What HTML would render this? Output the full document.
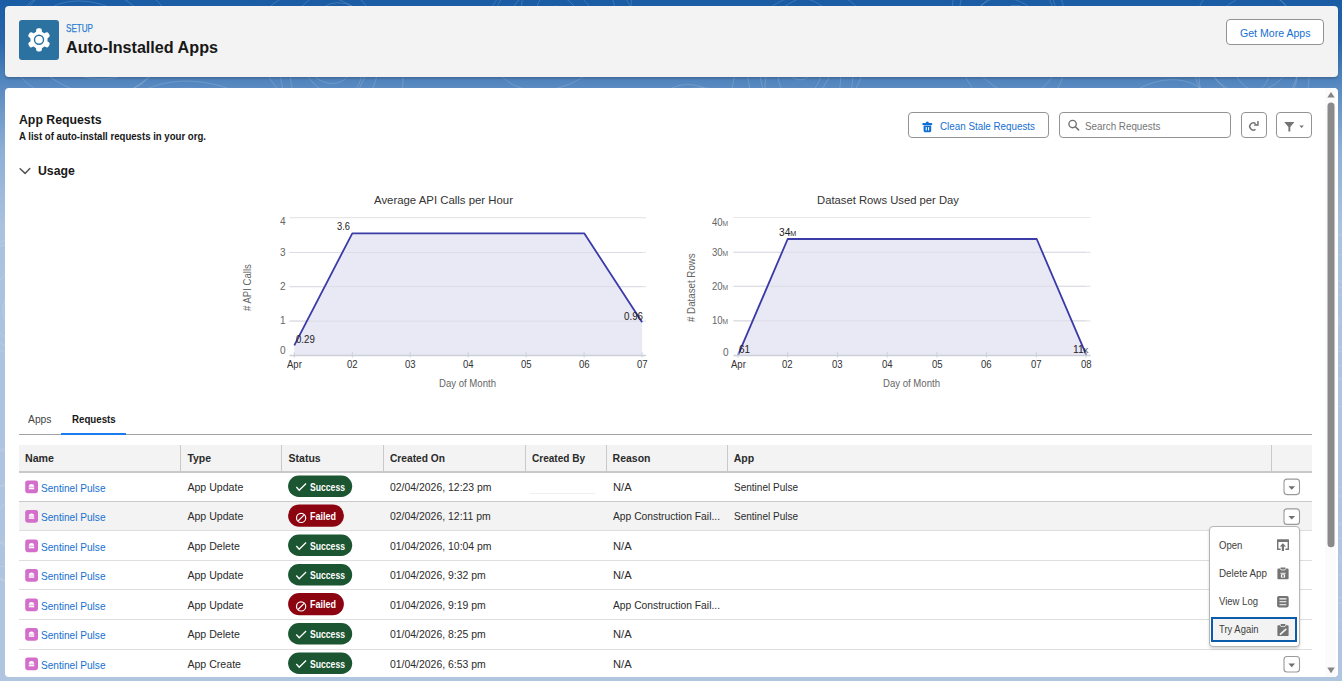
<!DOCTYPE html>
<html><head><meta charset="utf-8">
<style>
*{box-sizing:border-box;margin:0;padding:0}
html,body{width:1342px;height:681px;overflow:hidden}
body{font-family:"Liberation Sans",sans-serif;color:#181818;position:relative;
background:linear-gradient(180deg,#1a5ca4 0px,#2866ab 40px,#5a8bc1 88px,#8eafd6 150px,#abc2df 230px,#b0c5e0 681px);}
.a{position:absolute}
.t{position:absolute;white-space:nowrap;line-height:1}
.bx{position:absolute;border:1.25px solid #939393;border-radius:4px;background:#fff}
.vd{position:absolute;width:1px;background:#c9c9c9}
.hl{position:absolute;height:1px;background:#e5e5e5}
</style></head><body>
<!-- bgpattern --><svg class=a style="left:0;top:0" width="1342" height="681"><g fill="none" stroke="#ffffff" stroke-opacity="0.16" stroke-width="0.9"><ellipse cx="90" cy="40" rx="12.6" ry="7.9" transform="rotate(117 90 40)"/><ellipse cx="90" cy="40" rx="24.6" ry="20.2" transform="rotate(66 90 40)"/><ellipse cx="90" cy="40" rx="38.5" ry="30.0" transform="rotate(7 90 40)"/><ellipse cx="90" cy="40" rx="55.5" ry="37.4" transform="rotate(16 90 40)"/><ellipse cx="90" cy="40" rx="69.4" ry="52.0" transform="rotate(22 90 40)"/><ellipse cx="90" cy="40" rx="81.8" ry="60.8" transform="rotate(171 90 40)"/><ellipse cx="330" cy="60" rx="14.6" ry="9.4" transform="rotate(176 330 60)"/><ellipse cx="330" cy="60" rx="24.4" ry="22.2" transform="rotate(52 330 60)"/><ellipse cx="330" cy="60" rx="39.2" ry="27.7" transform="rotate(56 330 60)"/><ellipse cx="330" cy="60" rx="58.5" ry="38.1" transform="rotate(105 330 60)"/><ellipse cx="330" cy="60" rx="71.1" ry="49.2" transform="rotate(99 330 60)"/><ellipse cx="330" cy="60" rx="80.5" ry="57.4" transform="rotate(37 330 60)"/><ellipse cx="560" cy="20" rx="15.4" ry="9.6" transform="rotate(57 560 20)"/><ellipse cx="560" cy="20" rx="28.7" ry="19.7" transform="rotate(54 560 20)"/><ellipse cx="560" cy="20" rx="44.4" ry="31.2" transform="rotate(44 560 20)"/><ellipse cx="560" cy="20" rx="56.6" ry="40.2" transform="rotate(158 560 20)"/><ellipse cx="560" cy="20" rx="71.8" ry="48.7" transform="rotate(176 560 20)"/><ellipse cx="560" cy="20" rx="80.9" ry="59.5" transform="rotate(136 560 20)"/><ellipse cx="800" cy="70" rx="11.2" ry="9.9" transform="rotate(7 800 70)"/><ellipse cx="800" cy="70" rx="29.3" ry="21.6" transform="rotate(103 800 70)"/><ellipse cx="800" cy="70" rx="45.0" ry="28.9" transform="rotate(125 800 70)"/><ellipse cx="800" cy="70" rx="56.8" ry="40.5" transform="rotate(82 800 70)"/><ellipse cx="800" cy="70" rx="72.7" ry="52.7" transform="rotate(85 800 70)"/><ellipse cx="800" cy="70" rx="85.3" ry="57.4" transform="rotate(126 800 70)"/><ellipse cx="1010" cy="30" rx="15.2" ry="13.0" transform="rotate(148 1010 30)"/><ellipse cx="1010" cy="30" rx="26.3" ry="19.3" transform="rotate(120 1010 30)"/><ellipse cx="1010" cy="30" rx="38.2" ry="29.8" transform="rotate(30 1010 30)"/><ellipse cx="1010" cy="30" rx="52.9" ry="37.4" transform="rotate(138 1010 30)"/><ellipse cx="1010" cy="30" rx="67.0" ry="48.5" transform="rotate(70 1010 30)"/><ellipse cx="1010" cy="30" rx="87.0" ry="57.5" transform="rotate(81 1010 30)"/><ellipse cx="1250" cy="60" rx="14.4" ry="12.3" transform="rotate(147 1250 60)"/><ellipse cx="1250" cy="60" rx="30.9" ry="18.7" transform="rotate(75 1250 60)"/><ellipse cx="1250" cy="60" rx="40.9" ry="32.3" transform="rotate(172 1250 60)"/><ellipse cx="1250" cy="60" rx="53.2" ry="38.1" transform="rotate(42 1250 60)"/><ellipse cx="1250" cy="60" rx="67.9" ry="49.9" transform="rotate(106 1250 60)"/><ellipse cx="1250" cy="60" rx="82.1" ry="57.0" transform="rotate(75 1250 60)"/><ellipse cx="200" cy="140" rx="13.0" ry="10.4" transform="rotate(172 200 140)"/><ellipse cx="200" cy="140" rx="29.5" ry="20.1" transform="rotate(111 200 140)"/><ellipse cx="200" cy="140" rx="43.4" ry="27.3" transform="rotate(162 200 140)"/><ellipse cx="200" cy="140" rx="58.2" ry="42.2" transform="rotate(144 200 140)"/><ellipse cx="200" cy="140" rx="69.1" ry="49.4" transform="rotate(19 200 140)"/><ellipse cx="200" cy="140" rx="85.1" ry="57.4" transform="rotate(12 200 140)"/><ellipse cx="700" cy="150" rx="11.7" ry="8.0" transform="rotate(61 700 150)"/><ellipse cx="700" cy="150" rx="24.4" ry="17.0" transform="rotate(27 700 150)"/><ellipse cx="700" cy="150" rx="38.8" ry="29.2" transform="rotate(5 700 150)"/><ellipse cx="700" cy="150" rx="59.0" ry="40.7" transform="rotate(27 700 150)"/><ellipse cx="700" cy="150" rx="68.0" ry="49.1" transform="rotate(66 700 150)"/><ellipse cx="700" cy="150" rx="81.0" ry="62.1" transform="rotate(179 700 150)"/><ellipse cx="1150" cy="160" rx="13.7" ry="9.9" transform="rotate(15 1150 160)"/><ellipse cx="1150" cy="160" rx="24.8" ry="19.1" transform="rotate(48 1150 160)"/><ellipse cx="1150" cy="160" rx="44.6" ry="28.0" transform="rotate(4 1150 160)"/><ellipse cx="1150" cy="160" rx="59.6" ry="40.2" transform="rotate(26 1150 160)"/><ellipse cx="1150" cy="160" rx="70.3" ry="47.2" transform="rotate(95 1150 160)"/><ellipse cx="1150" cy="160" rx="87.8" ry="62.2" transform="rotate(125 1150 160)"/><ellipse cx="40" cy="300" rx="12.1" ry="9.2" transform="rotate(30 40 300)"/><ellipse cx="40" cy="300" rx="30.2" ry="20.2" transform="rotate(140 40 300)"/><ellipse cx="40" cy="300" rx="40.6" ry="28.3" transform="rotate(146 40 300)"/><ellipse cx="40" cy="300" rx="59.9" ry="42.1" transform="rotate(145 40 300)"/><ellipse cx="40" cy="300" rx="72.5" ry="51.4" transform="rotate(41 40 300)"/><ellipse cx="40" cy="300" rx="84.1" ry="59.1" transform="rotate(5 40 300)"/><ellipse cx="1330" cy="320" rx="10.2" ry="8.7" transform="rotate(47 1330 320)"/><ellipse cx="1330" cy="320" rx="29.5" ry="22.7" transform="rotate(81 1330 320)"/><ellipse cx="1330" cy="320" rx="45.5" ry="32.9" transform="rotate(172 1330 320)"/><ellipse cx="1330" cy="320" rx="54.9" ry="38.3" transform="rotate(41 1330 320)"/><ellipse cx="1330" cy="320" rx="67.6" ry="48.2" transform="rotate(112 1330 320)"/><ellipse cx="1330" cy="320" rx="87.2" ry="62.0" transform="rotate(86 1330 320)"/><ellipse cx="20" cy="520" rx="15.2" ry="11.8" transform="rotate(15 20 520)"/><ellipse cx="20" cy="520" rx="29.3" ry="22.5" transform="rotate(141 20 520)"/><ellipse cx="20" cy="520" rx="44.0" ry="29.9" transform="rotate(32 20 520)"/><ellipse cx="20" cy="520" rx="58.3" ry="39.0" transform="rotate(144 20 520)"/><ellipse cx="20" cy="520" rx="73.8" ry="49.4" transform="rotate(72 20 520)"/><ellipse cx="20" cy="520" rx="87.6" ry="61.3" transform="rotate(31 20 520)"/><ellipse cx="1330" cy="560" rx="11.0" ry="7.9" transform="rotate(163 1330 560)"/><ellipse cx="1330" cy="560" rx="30.5" ry="17.9" transform="rotate(149 1330 560)"/><ellipse cx="1330" cy="560" rx="45.8" ry="30.9" transform="rotate(63 1330 560)"/><ellipse cx="1330" cy="560" rx="56.4" ry="37.8" transform="rotate(3 1330 560)"/><ellipse cx="1330" cy="560" rx="73.8" ry="50.9" transform="rotate(95 1330 560)"/><ellipse cx="1330" cy="560" rx="87.5" ry="59.6" transform="rotate(157 1330 560)"/></g></svg>
<!-- header card -->
<div class=a style="left:5px;top:6px;width:1333px;height:71px;background:#f3f3f3;border-radius:4px;box-shadow:0 2px 2px rgba(0,0,0,.16)"></div>
<div class=a style="left:19px;top:20px;width:40px;height:40px;background:#2b72a0;border-radius:3px"></div>
<svg class=a style="left:19px;top:20px" width="40" height="40" viewBox="0 0 40 40">
 <g transform="translate(20,19.8)" fill="#fff">
  <circle r="8.6"/>
  <rect x="-2.9" y="-11.6" width="5.8" height="6" rx="2.2"/>
  <rect x="-2.9" y="-11.6" width="5.8" height="6" rx="2.2" transform="rotate(60)"/>
  <rect x="-2.9" y="-11.6" width="5.8" height="6" rx="2.2" transform="rotate(120)"/>
  <rect x="-2.9" y="-11.6" width="5.8" height="6" rx="2.2" transform="rotate(180)"/>
  <rect x="-2.9" y="-11.6" width="5.8" height="6" rx="2.2" transform="rotate(240)"/>
  <rect x="-2.9" y="-11.6" width="5.8" height="6" rx="2.2" transform="rotate(300)"/>
  <circle r="4.5" fill="none" stroke="#2b72a0" stroke-width="1.4"/>
 </g>
</svg>
<div class=bx style="left:1226.3px;top:19.1px;width:98px;height:26.2px"></div>

<!-- main card -->
<div class=a style="left:5px;top:88px;width:1333px;height:589px;background:#fff;border-radius:4px"></div>

<!-- toolbar -->
<div class=bx style="left:908px;top:112.2px;width:141px;height:26.2px"></div>
<svg class=a style="left:918px;top:116px" width="20" height="20" viewBox="0 0 20 20">
 <g fill="#0f6fd4">
  <rect x="4.4" y="7.1" width="9.8" height="1.9" rx="0.6"/>
  <path d="M7.6 7.3 Q7.8 5.6 9.3 5.6 Q10.8 5.6 11 7.3 Z"/>
  <path d="M5.6 9.6 H13.2 V14.8 Q13.2 16.2 11.8 16.2 H7 Q5.6 16.2 5.6 14.8 Z"/>
 </g>
 <g fill="#fff"><rect x="7.7" y="11" width="1.1" height="3.6" rx=".5"/><rect x="10" y="11" width="1.1" height="3.6" rx=".5"/></g>
</svg>
<div class=bx style="left:1058.7px;top:112.3px;width:172px;height:26px"></div>
<svg class=a style="left:1062px;top:114px" width="30" height="22" viewBox="0 0 30 22">
 <circle cx="10.6" cy="10" r="3.7" fill="none" stroke="#707070" stroke-width="1.35"/>
 <line x1="13.3" y1="12.7" x2="16.6" y2="15.9" stroke="#707070" stroke-width="1.5" stroke-linecap="round"/>
</svg>
<div class=bx style="left:1240.7px;top:112.3px;width:26px;height:26px"></div>
<svg class=a style="left:1241px;top:112px" width="26" height="26" viewBox="0 0 26 26">
 <path d="M14.6 11.6 A3.6 3.6 0 1 0 14.5 17.3" fill="none" stroke="#747474" stroke-width="1.45"/>
 <path d="M16.2 8.9 H17.7 V13.7 H13 V12.4 H16.2 Z" fill="#747474"/>
 <path d="M13.6 11.4 L16.4 12.6 L15 13.6 Z" fill="#747474"/>
</svg>
<div class=bx style="left:1276.3px;top:112.3px;width:35.5px;height:26px"></div>
<svg class=a style="left:1276px;top:112px" width="36" height="26" viewBox="0 0 36 26">
 <path d="M8.2 10 H18.4 L14.3 14.9 V19.6 H12.4 V14.9 Z" fill="#747474"/>
 <path d="M23.3 13.4 H27.9 L25.6 16 Z" fill="#747474"/>
</svg>

<!-- scrollbar -->
<div class=a style="left:1325px;top:88px;width:11px;height:589px;background:#fbfbfb"></div>
<svg class=a style="left:1325px;top:88px" width="13" height="589" viewBox="0 0 13 589">
 <path d="M2.3 9.6 H9.7 L6 4 Z" fill="#858585"/>
 <rect x="2.5" y="14.6" width="7" height="444.7" rx="3.5" fill="#8a8a8a"/>
 <path d="M2.3 579.6 H9.7 L6 585.2 Z" fill="#858585"/>
</svg>

<!-- usage chevron -->
<svg class=a style="left:15px;top:160px" width="20" height="20" viewBox="0 0 20 20">
 <path d="M5.1 8.7 L10.1 13.4 L14.8 8.6" fill="none" stroke="#555" stroke-width="1.5" stroke-linecap="round" stroke-linejoin="round"/>
</svg>

<!-- charts -->
<svg class=a style="left:0;top:0" width="1342" height="681" viewBox="0 0 1342 681">
 <g stroke="#e6e6e6" stroke-width="1.2">
  <line x1="289.5" y1="217.7" x2="646" y2="217.7"/>
  <line x1="289.5" y1="252.5" x2="646" y2="252.5"/>
  <line x1="289.5" y1="286.6" x2="646" y2="286.6"/>
  <line x1="289.5" y1="321.1" x2="646" y2="321.1"/>
  <line x1="733.4" y1="217.5" x2="1090.5" y2="217.5"/>
  <line x1="733.4" y1="252.3" x2="1090.5" y2="252.3"/>
  <line x1="733.4" y1="286.3" x2="1090.5" y2="286.3"/>
  <line x1="733.4" y1="320.8" x2="1090.5" y2="320.8"/>
 </g>
 <!-- chart1 area -->
 <path d="M294.3 345.3 L352.3 233.3 L584.2 233.3 L642.1 322.2 L642.1 355.2 L294.3 355.2 Z" fill="#e9e9f5"/>
 <g stroke="#d0d0e0" stroke-width="1"><line x1="289.5" y1="321.1" x2="642" y2="321.1" stroke="#dcdce6"/><line x1="289.5" y1="252.5" x2="642" y2="252.5" stroke="#dcdce6"/><line x1="289.5" y1="286.6" x2="642" y2="286.6" stroke="#dcdce6"/></g>
 <path d="M294.3 345.3 L352.3 233.3 L584.2 233.3 L642.1 322.2" fill="none" stroke="#3b3ba8" stroke-width="1.8" stroke-linejoin="round"/>
 <line x1="289.5" y1="355.5" x2="646" y2="355.5" stroke="#ccd0d8" stroke-width="1.3"/>
 <!-- chart2 area -->
 <path d="M738 355.2 L787.7 239 L1036.7 239 L1086.4 355.2 Z" fill="#e9e9f5"/>
 <g stroke="#dcdce6" stroke-width="1"><line x1="733.4" y1="252.3" x2="1086" y2="252.3"/><line x1="733.4" y1="286.3" x2="1086" y2="286.3"/><line x1="733.4" y1="320.8" x2="1086" y2="320.8"/></g>
 <path d="M738 355.2 L787.7 239 L1036.7 239 L1086.4 355.2" fill="none" stroke="#3b3ba8" stroke-width="1.8" stroke-linejoin="round"/>
 <line x1="733.4" y1="355.5" x2="1090.5" y2="355.5" stroke="#ccd0d8" stroke-width="1.3"/>
 <g stroke="#ccd0d8" stroke-width="1">
  <line x1="294.3" y1="352.2" x2="294.3" y2="357.6"/><line x1="352.3" y1="352.2" x2="352.3" y2="357.6"/><line x1="410.2" y1="352.2" x2="410.2" y2="357.6"/><line x1="468.2" y1="352.2" x2="468.2" y2="357.6"/><line x1="526.1" y1="352.2" x2="526.1" y2="357.6"/><line x1="584.1" y1="352.2" x2="584.1" y2="357.6"/><line x1="642" y1="352.2" x2="642" y2="357.6"/>
  <line x1="738" y1="352.2" x2="738" y2="357.6"/><line x1="787.7" y1="352.2" x2="787.7" y2="357.6"/><line x1="837.4" y1="352.2" x2="837.4" y2="357.6"/><line x1="887.2" y1="352.2" x2="887.2" y2="357.6"/><line x1="936.9" y1="352.2" x2="936.9" y2="357.6"/><line x1="986.6" y1="352.2" x2="986.6" y2="357.6"/><line x1="1036.3" y1="352.2" x2="1036.3" y2="357.6"/><line x1="1086" y1="352.2" x2="1086" y2="357.6"/>
 </g>
</svg>

<!-- tabs -->
<div class=a style="left:19px;top:434px;width:1293px;height:1.4px;background:#a3a3a3"></div>
<div class=a style="left:61.4px;top:432.6px;width:64.4px;height:2.6px;background:#1b7cf0"></div>

<!-- table -->
<div class=a style="left:19px;top:444.6px;width:1293px;height:26.6px;background:#f3f3f3"></div>
<div class=a style="left:19px;top:471px;width:1293px;height:1.6px;background:#c9c9c9"></div>
<div class=a style="left:19px;top:501.5px;width:1293px;height:29.3px;background:#f3f3f3"></div>
<div class=a style="left:19px;top:500.6px;width:1293px;height:1.3px;background:#c9c9c9"></div>
<div class=a style="left:19px;top:530.2px;width:1293px;height:1.2px;background:#dedede"></div>
<div class=a style="left:19px;top:559.6px;width:1293px;height:1.2px;background:#dedede"></div>
<div class=a style="left:19px;top:589.2px;width:1293px;height:1.2px;background:#dedede"></div>
<div class=a style="left:19px;top:618.7px;width:1293px;height:1.2px;background:#dedede"></div>
<div class=a style="left:19px;top:648.5px;width:1293px;height:1.2px;background:#dedede"></div>
<div class=vd style="left:180.3px;top:445px;height:25.5px"></div>
<div class=vd style="left:281.3px;top:445px;height:25.5px"></div>
<div class=vd style="left:382.7px;top:445px;height:25.5px"></div>
<div class=vd style="left:524.5px;top:445px;height:25.5px"></div>
<div class=vd style="left:605.5px;top:445px;height:25.5px"></div>
<div class=vd style="left:727px;top:445px;height:25.5px"></div>
<div class=vd style="left:1271.2px;top:445px;height:25.5px"></div>
<!-- faint skeleton line row1 created by -->
<div class=a style="left:530px;top:493px;width:65px;height:1px;background:#f0f0f0"></div>

<!-- row icons & badges -->
<svg class=a style="left:0;top:0" width="1342" height="681" viewBox="0 0 1342 681">
 <defs>
  <g id="appic">
   <rect x="0" y="0" width="12.8" height="12.8" rx="2.4" fill="#d36fca"/>
   <path d="M3.6 5.8 Q3.9 3.5 6.3 3.5 Q8.7 3.5 9 5.8 Z" fill="#fff"/><rect x="3.6" y="5.8" width="5.4" height="1.1" fill="#fff" opacity=".9"/><rect x="3.6" y="6.9" width="5.4" height="0.6" fill="#fff" opacity=".5"/><rect x="3.6" y="7.5" width="5.4" height="1.4" fill="#fff"/>
  </g>
  <g id="succ">
   <rect x="0" y="0" width="64.1" height="21.3" rx="10.65" fill="#1b5531"/>
   <path d="M8.2 11.4 L11.1 14.6 L18 7.9" fill="none" stroke="#fff" stroke-width="1.3"/>
  </g>
  <g id="fail">
   <rect x="0" y="0" width="55.8" height="22.4" rx="11.2" fill="#8c0410"/>
   <circle cx="13" cy="13.5" r="4.6" fill="none" stroke="#fff" stroke-width="1.2"/>
   <line x1="9.9" y1="16.6" x2="16.1" y2="10.4" stroke="#fff" stroke-width="1.2"/>
  </g>
  <g id="caret">
   <rect x="0.5" y="0.5" width="15.5" height="15.5" rx="3" fill="#fff" stroke="#9a9a9a" stroke-width="1.1"/>
   <path d="M4.9 7.6 H11.6 L8.25 11.2 Z" fill="#6f6f6f"/>
  </g>
 </defs>
 <use href="#appic" x="25.2" y="480.4"/>
 <use href="#appic" x="25.2" y="509.9"/>
 <use href="#appic" x="25.2" y="539.4"/>
 <use href="#appic" x="25.2" y="568.9"/>
 <use href="#appic" x="25.2" y="598.4"/>
 <use href="#appic" x="25.2" y="627.9"/>
 <use href="#appic" x="25.2" y="657.4"/>
 <use href="#succ" x="288.1" y="475.6"/>
 <use href="#fail" x="288.1" y="504.4"/>
 <use href="#succ" x="288.1" y="534.6"/>
 <use href="#succ" x="288.1" y="564.1"/>
 <use href="#fail" x="288.1" y="592.9"/>
 <use href="#succ" x="288.1" y="623.1"/>
 <use href="#succ" x="288.1" y="652.6"/>
 <use href="#caret" x="1283.5" y="478.6"/>
 <use href="#caret" x="1283.5" y="508.4"/>
 <use href="#caret" x="1283.5" y="656"/>
</svg>

<!-- dropdown menu -->
<div class=a style="left:1208.6px;top:526px;width:91px;height:120.5px;background:#fff;border:1px solid #b5b5b5;border-radius:4px;box-shadow:0 2px 3px rgba(0,0,0,.16)"></div>
<div class=a style="left:1211.1px;top:616.5px;width:86.2px;height:25px;background:#f3f3f3;border:2px solid #0b5cab"></div>
<svg class=a style="left:1270px;top:530px" width="25" height="115" viewBox="0 0 25 115">
 <!-- open -->
 <path d="M7.6 9.2 H18.4 Q19 9.2 19 9.8 V19.4 Q19 20 18.4 20 H15.4 V18.6 H17.6 V12 H8.4 V18.6 H10.6 V20 H7.6 Q7 20 7 19.4 V9.8 Q7 9.2 7.6 9.2 Z" fill="#747474"/>
 <path d="M12.9 13.2 L16.1 16.6 H14 V21 H11.8 V16.6 H9.7 Z" fill="#747474"/>
 <!-- delete -->
 <path d="M8.4 38.6 H10.6 V37.6 H15.4 V38.6 H17.6 Q18.6 38.6 18.6 39.6 V48.4 Q18.6 49.2 17.8 49.2 H8.2 Q7.4 49.2 7.4 48.4 V39.6 Q7.4 38.6 8.4 38.6 Z" fill="#747474"/>
 <path d="M10.4 38.6 Q10.4 40 12 40 H14 Q15.6 40 15.6 38.6" fill="none" stroke="#fff" stroke-width="0.8"/>
 <rect x="10.4" y="42.8" width="5.2" height="0.9" fill="#fff"/>
 <rect x="10.9" y="44.3" width="4.2" height="3.3" rx=".6" fill="#fff"/>
 <rect x="12.2" y="45" width="1.6" height="1.9" fill="#747474"/>
 <!-- view log -->
 <rect x="7.1" y="66" width="11.6" height="11.4" rx="1.8" fill="#747474"/>
 <g fill="#fff"><rect x="9.3" y="68.3" width="7.2" height="1.1" rx=".5"/><rect x="9.3" y="71.2" width="7.2" height="1.1" rx=".5"/><rect x="9.3" y="74.2" width="7.2" height="1.1" rx=".5"/></g>
 <!-- try again -->
 <path d="M8.4 95.2 H10.6 V94 H15.4 V95.2 H17.6 Q18.6 95.2 18.6 96.2 V105.2 Q18.6 106 17.8 106 H8.2 Q7.4 106 7.4 105.2 V96.2 Q7.4 95.2 8.4 95.2 Z" fill="#747474"/>
 <path d="M10.4 95.2 Q10.4 96.6 12 96.6 H14 Q15.6 96.6 15.6 95.2" fill="none" stroke="#f3f3f3" stroke-width="0.8"/>
 <line x1="10.4" y1="104.1" x2="15.8" y2="99.3" stroke="#f3f3f3" stroke-width="1.6" stroke-linecap="round"/>
</svg>

<div class=t style='font-size:10.2px;font-weight:400;color:#2e7fd1;-webkit-text-stroke:0.25px #2e7fd1;left:65.70px;top:23.97px;transform-origin:0 0;transform:scaleX(0.7948);'>SETUP</div>
<div class=t style='font-size:16.3px;font-weight:700;color:#181818;left:65.70px;top:39.00px;transform-origin:0 0;transform:scaleX(0.9923);'>Auto-Installed Apps</div>
<div class=t style='font-size:10.8px;font-weight:400;color:#1570d0;left:1240.00px;top:27.96px;transform-origin:0 0;transform:scaleX(0.9790);'>Get More Apps</div>
<div class=t style='font-size:12px;font-weight:700;color:#181818;left:18.90px;top:113.64px;transform-origin:0 0;transform:scaleX(1.0237);'>App Requests</div>
<div class=t style='font-size:10.2px;font-weight:700;color:#181818;left:18.90px;top:131.87px;transform-origin:0 0;transform:scaleX(0.9430);'>A list of auto-install requests in your org.</div>
<div class=t style='font-size:12px;font-weight:700;color:#181818;left:37.80px;top:164.64px;transform-origin:0 0;transform:scaleX(1.0213);'>Usage</div>
<div class=t style='font-size:10.7px;font-weight:400;color:#1570d0;left:940.00px;top:121.24px;transform-origin:0 0;transform:scaleX(0.9190);'>Clean Stale Requests</div>
<div class=t style='font-size:10.7px;font-weight:400;color:#747474;left:1085.20px;top:120.64px;transform-origin:0 0;transform:scaleX(0.9185);'>Search Requests</div>
<div class=t style='font-size:11.6px;font-weight:400;color:#333333;left:374.40px;top:194.08px;transform-origin:0 0;transform:scaleX(0.9819);'>Average API Calls per Hour</div>
<div class=t style='font-size:11.6px;font-weight:400;color:#333333;left:817.20px;top:194.08px;transform-origin:0 0;transform:scaleX(0.9707);'>Dataset Rows Used per Day</div>
<div class=t style='font-size:10.6px;font-weight:400;color:#666666;left:279.79px;top:216.43px;transform-origin:0 0;transform:scaleX(0.9500);'>4</div>
<div class=t style='font-size:10.6px;font-weight:400;color:#666666;left:279.79px;top:246.93px;transform-origin:0 0;transform:scaleX(0.9500);'>3</div>
<div class=t style='font-size:10.6px;font-weight:400;color:#666666;left:279.79px;top:281.03px;transform-origin:0 0;transform:scaleX(0.9500);'>2</div>
<div class=t style='font-size:10.6px;font-weight:400;color:#666666;left:279.79px;top:315.33px;transform-origin:0 0;transform:scaleX(0.9500);'>1</div>
<div class=t style='font-size:10.6px;font-weight:400;color:#666666;left:279.79px;top:344.53px;transform-origin:0 0;transform:scaleX(0.9500);'>0</div>
<div class=t style='font-size:10.6px;font-weight:400;color:#333333;left:286.88px;top:358.93px;transform-origin:0 0;transform:scaleX(0.9000);'>Apr</div>
<div class=t style='font-size:10.6px;font-weight:400;color:#333333;left:346.94px;top:358.93px;transform-origin:0 0;transform:scaleX(0.9000);'>02</div>
<div class=t style='font-size:10.6px;font-weight:400;color:#333333;left:404.89px;top:358.93px;transform-origin:0 0;transform:scaleX(0.9000);'>03</div>
<div class=t style='font-size:10.6px;font-weight:400;color:#333333;left:462.84px;top:358.93px;transform-origin:0 0;transform:scaleX(0.9000);'>04</div>
<div class=t style='font-size:10.6px;font-weight:400;color:#333333;left:520.79px;top:358.93px;transform-origin:0 0;transform:scaleX(0.9000);'>05</div>
<div class=t style='font-size:10.6px;font-weight:400;color:#333333;left:578.74px;top:358.93px;transform-origin:0 0;transform:scaleX(0.9000);'>06</div>
<div class=t style='font-size:10.6px;font-weight:400;color:#333333;left:636.69px;top:358.93px;transform-origin:0 0;transform:scaleX(0.9000);'>07</div>
<div class=t style='font-size:10.6px;font-weight:400;color:#666666;left:439.30px;top:377.73px;transform-origin:0 0;transform:scaleX(0.9045);'>Day of Month</div>
<div class=t style='font-size:10.6px;font-weight:400;color:#222222;left:337.20px;top:220.73px;transform-origin:0 0;transform:scaleX(0.8823);'>3.6</div>
<div class=t style='font-size:10.6px;font-weight:400;color:#222222;left:295.60px;top:334.33px;transform-origin:0 0;transform:scaleX(0.9115);'>0.29</div>
<div class=t style='font-size:10.6px;font-weight:400;color:#222222;left:624.30px;top:310.83px;transform-origin:0 0;transform:scaleX(0.9212);'>0.96</div>
<div class=t style='font-size:10.6px;font-weight:400;color:#666666;left:242.33px;top:310.90px;transform-origin:0 0;transform:rotate(-90deg) scaleX(0.9030);'># API Calls</div>
<div class=t style='font-size:10.6px;font-weight:400;color:#666666;left:712.43px;top:216.63px;transform-origin:0 0;transform:scaleX(0.9000);'>40<span style="font-size:7.4px">M</span></div>
<div class=t style='font-size:10.6px;font-weight:400;color:#666666;left:712.43px;top:246.53px;transform-origin:0 0;transform:scaleX(0.9000);'>30<span style="font-size:7.4px">M</span></div>
<div class=t style='font-size:10.6px;font-weight:400;color:#666666;left:712.43px;top:280.63px;transform-origin:0 0;transform:scaleX(0.9000);'>20<span style="font-size:7.4px">M</span></div>
<div class=t style='font-size:10.6px;font-weight:400;color:#666666;left:712.43px;top:314.93px;transform-origin:0 0;transform:scaleX(0.9000);'>10<span style="font-size:7.4px">M</span></div>
<div class=t style='font-size:10.6px;font-weight:400;color:#666666;left:723.19px;top:347.23px;transform-origin:0 0;transform:scaleX(0.9500);'>0</div>
<div class=t style='font-size:10.6px;font-weight:400;color:#333333;left:730.58px;top:358.93px;transform-origin:0 0;transform:scaleX(0.9000);'>Apr</div>
<div class=t style='font-size:10.6px;font-weight:400;color:#333333;left:782.41px;top:358.93px;transform-origin:0 0;transform:scaleX(0.9000);'>02</div>
<div class=t style='font-size:10.6px;font-weight:400;color:#333333;left:832.13px;top:358.93px;transform-origin:0 0;transform:scaleX(0.9000);'>03</div>
<div class=t style='font-size:10.6px;font-weight:400;color:#333333;left:881.85px;top:358.93px;transform-origin:0 0;transform:scaleX(0.9000);'>04</div>
<div class=t style='font-size:10.6px;font-weight:400;color:#333333;left:931.57px;top:358.93px;transform-origin:0 0;transform:scaleX(0.9000);'>05</div>
<div class=t style='font-size:10.6px;font-weight:400;color:#333333;left:981.29px;top:358.93px;transform-origin:0 0;transform:scaleX(0.9000);'>06</div>
<div class=t style='font-size:10.6px;font-weight:400;color:#333333;left:1031.01px;top:358.93px;transform-origin:0 0;transform:scaleX(0.9000);'>07</div>
<div class=t style='font-size:10.6px;font-weight:400;color:#333333;left:1080.73px;top:358.93px;transform-origin:0 0;transform:scaleX(0.9000);'>08</div>
<div class=t style='font-size:10.6px;font-weight:400;color:#666666;left:883.00px;top:377.73px;transform-origin:0 0;transform:scaleX(0.9045);'>Day of Month</div>
<div class=t style='font-size:10.6px;font-weight:400;color:#222222;left:779.30px;top:226.93px;transform-origin:0 0;transform:scaleX(0.9628);'>34<span style="font-size:7.4px">M</span></div>
<div class=t style='font-size:10.6px;font-weight:400;color:#222222;left:739.20px;top:344.03px;transform-origin:0 0;transform:scaleX(0.9409);'>61</div>
<div class=t style='font-size:10.6px;font-weight:400;color:#222222;left:1072.80px;top:343.63px;transform-origin:0 0;transform:scaleX(0.9725);'>11<span style="font-size:7.4px">K</span></div>
<div class=t style='font-size:10.6px;font-weight:400;color:#666666;left:686.43px;top:322.20px;transform-origin:0 0;transform:rotate(-90deg) scaleX(0.9187);'># Dataset Rows</div>
<div class=t style='font-size:10.8px;font-weight:400;color:#444444;left:28.40px;top:414.06px;transform-origin:0 0;transform:scaleX(0.9549);'>Apps</div>
<div class=t style='font-size:10.8px;font-weight:700;color:#181818;left:71.70px;top:414.06px;transform-origin:0 0;transform:scaleX(0.8990);'>Requests</div>
<div class=t style='font-size:10.5px;font-weight:700;color:#2b2b2b;left:25.40px;top:453.11px;transform-origin:0 0;transform:scaleX(1.0137);'>Name</div>
<div class=t style='font-size:10.5px;font-weight:700;color:#2b2b2b;left:187.40px;top:453.11px;'>Type</div>
<div class=t style='font-size:10.5px;font-weight:700;color:#2b2b2b;left:288.60px;top:453.11px;'>Status</div>
<div class=t style='font-size:10.5px;font-weight:700;color:#2b2b2b;left:390.00px;top:453.11px;transform-origin:0 0;transform:scaleX(0.9716);'>Created On</div>
<div class=t style='font-size:10.5px;font-weight:700;color:#2b2b2b;left:531.60px;top:453.11px;transform-origin:0 0;transform:scaleX(0.9558);'>Created By</div>
<div class=t style='font-size:10.5px;font-weight:700;color:#2b2b2b;left:612.60px;top:453.11px;'>Reason</div>
<div class=t style='font-size:10.5px;font-weight:700;color:#2b2b2b;left:733.70px;top:453.11px;'>App</div>
<div class=t style='font-size:10.6px;font-weight:400;color:#1570d0;left:41.00px;top:482.73px;transform-origin:0 0;transform:scaleX(0.9522);'>Sentinel Pulse</div>
<div class=t style='font-size:10.6px;font-weight:400;color:#2b2b2b;left:187.40px;top:481.73px;'>App Update</div>
<div class=t style='font-size:10.6px;font-weight:400;color:#2b2b2b;left:390.00px;top:481.73px;transform-origin:0 0;transform:scaleX(0.9850);'>02/04/2026, 12:23 pm</div>
<div class=t style='font-size:10.6px;font-weight:400;color:#2b2b2b;left:612.60px;top:481.73px;transform-origin:0 0;transform:scaleX(1.0525);'>N/A</div>
<div class=t style='font-size:10.6px;font-weight:400;color:#2b2b2b;left:733.80px;top:481.73px;transform-origin:0 0;transform:scaleX(0.9449);'>Sentinel Pulse</div>
<div class=t style='font-size:10.0px;font-weight:700;color:#fff;left:310.00px;top:482.54px;transform-origin:0 0;transform:scaleX(0.8622);'>Success</div>
<div class=t style='font-size:10.6px;font-weight:400;color:#1570d0;left:41.00px;top:512.23px;transform-origin:0 0;transform:scaleX(0.9522);'>Sentinel Pulse</div>
<div class=t style='font-size:10.6px;font-weight:400;color:#2b2b2b;left:187.40px;top:511.23px;'>App Update</div>
<div class=t style='font-size:10.6px;font-weight:400;color:#2b2b2b;left:390.00px;top:511.23px;transform-origin:0 0;transform:scaleX(0.9850);'>02/04/2026, 12:11 pm</div>
<div class=t style='font-size:10.6px;font-weight:400;color:#2b2b2b;left:612.60px;top:511.23px;transform-origin:0 0;transform:scaleX(0.9718);'>App Construction Fail...</div>
<div class=t style='font-size:10.6px;font-weight:400;color:#2b2b2b;left:733.80px;top:511.23px;transform-origin:0 0;transform:scaleX(0.9449);'>Sentinel Pulse</div>
<div class=t style='font-size:10.0px;font-weight:700;color:#fff;left:310.40px;top:511.84px;transform-origin:0 0;transform:scaleX(0.8995);'>Failed</div>
<div class=t style='font-size:10.6px;font-weight:400;color:#1570d0;left:41.00px;top:541.73px;transform-origin:0 0;transform:scaleX(0.9522);'>Sentinel Pulse</div>
<div class=t style='font-size:10.6px;font-weight:400;color:#2b2b2b;left:187.40px;top:540.73px;'>App Delete</div>
<div class=t style='font-size:10.6px;font-weight:400;color:#2b2b2b;left:390.00px;top:540.73px;transform-origin:0 0;transform:scaleX(0.9850);'>01/04/2026, 10:04 pm</div>
<div class=t style='font-size:10.6px;font-weight:400;color:#2b2b2b;left:612.60px;top:540.73px;transform-origin:0 0;transform:scaleX(1.0525);'>N/A</div>
<div class=t style='font-size:10.0px;font-weight:700;color:#fff;left:310.00px;top:541.53px;transform-origin:0 0;transform:scaleX(0.8622);'>Success</div>
<div class=t style='font-size:10.6px;font-weight:400;color:#1570d0;left:41.00px;top:571.23px;transform-origin:0 0;transform:scaleX(0.9522);'>Sentinel Pulse</div>
<div class=t style='font-size:10.6px;font-weight:400;color:#2b2b2b;left:187.40px;top:570.23px;'>App Update</div>
<div class=t style='font-size:10.6px;font-weight:400;color:#2b2b2b;left:390.00px;top:570.23px;transform-origin:0 0;transform:scaleX(0.9850);'>01/04/2026, 9:32 pm</div>
<div class=t style='font-size:10.6px;font-weight:400;color:#2b2b2b;left:612.60px;top:570.23px;transform-origin:0 0;transform:scaleX(1.0525);'>N/A</div>
<div class=t style='font-size:10.0px;font-weight:700;color:#fff;left:310.00px;top:571.03px;transform-origin:0 0;transform:scaleX(0.8622);'>Success</div>
<div class=t style='font-size:10.6px;font-weight:400;color:#1570d0;left:41.00px;top:600.73px;transform-origin:0 0;transform:scaleX(0.9522);'>Sentinel Pulse</div>
<div class=t style='font-size:10.6px;font-weight:400;color:#2b2b2b;left:187.40px;top:599.73px;'>App Update</div>
<div class=t style='font-size:10.6px;font-weight:400;color:#2b2b2b;left:390.00px;top:599.73px;transform-origin:0 0;transform:scaleX(0.9850);'>01/04/2026, 9:19 pm</div>
<div class=t style='font-size:10.6px;font-weight:400;color:#2b2b2b;left:612.60px;top:599.73px;transform-origin:0 0;transform:scaleX(0.9718);'>App Construction Fail...</div>
<div class=t style='font-size:10.0px;font-weight:700;color:#fff;left:310.40px;top:600.34px;transform-origin:0 0;transform:scaleX(0.8995);'>Failed</div>
<div class=t style='font-size:10.6px;font-weight:400;color:#1570d0;left:41.00px;top:630.23px;transform-origin:0 0;transform:scaleX(0.9522);'>Sentinel Pulse</div>
<div class=t style='font-size:10.6px;font-weight:400;color:#2b2b2b;left:187.40px;top:629.23px;'>App Delete</div>
<div class=t style='font-size:10.6px;font-weight:400;color:#2b2b2b;left:390.00px;top:629.23px;transform-origin:0 0;transform:scaleX(0.9850);'>01/04/2026, 8:25 pm</div>
<div class=t style='font-size:10.6px;font-weight:400;color:#2b2b2b;left:612.60px;top:629.23px;transform-origin:0 0;transform:scaleX(1.0525);'>N/A</div>
<div class=t style='font-size:10.0px;font-weight:700;color:#fff;left:310.00px;top:630.03px;transform-origin:0 0;transform:scaleX(0.8622);'>Success</div>
<div class=t style='font-size:10.6px;font-weight:400;color:#1570d0;left:41.00px;top:659.73px;transform-origin:0 0;transform:scaleX(0.9522);'>Sentinel Pulse</div>
<div class=t style='font-size:10.6px;font-weight:400;color:#2b2b2b;left:187.40px;top:658.73px;'>App Create</div>
<div class=t style='font-size:10.6px;font-weight:400;color:#2b2b2b;left:390.00px;top:658.73px;transform-origin:0 0;transform:scaleX(0.9850);'>01/04/2026, 6:53 pm</div>
<div class=t style='font-size:10.6px;font-weight:400;color:#2b2b2b;left:612.60px;top:658.73px;transform-origin:0 0;transform:scaleX(1.0525);'>N/A</div>
<div class=t style='font-size:10.0px;font-weight:700;color:#fff;left:310.00px;top:659.53px;transform-origin:0 0;transform:scaleX(0.8622);'>Success</div>
<div class=t style='font-size:10.4px;font-weight:400;color:#3e3e3c;left:1219.00px;top:540.60px;transform-origin:0 0;transform:scaleX(0.9205);'>Open</div>
<div class=t style='font-size:10.4px;font-weight:400;color:#3e3e3c;left:1219.00px;top:568.80px;transform-origin:0 0;transform:scaleX(0.9441);'>Delete App</div>
<div class=t style='font-size:10.4px;font-weight:400;color:#3e3e3c;left:1219.00px;top:596.90px;transform-origin:0 0;transform:scaleX(0.9163);'>View Log</div>
<div class=t style='font-size:10.4px;font-weight:400;color:#3e3e3c;left:1218.90px;top:624.90px;transform-origin:0 0;transform:scaleX(0.9077);'>Try Again</div>
</body></html>
